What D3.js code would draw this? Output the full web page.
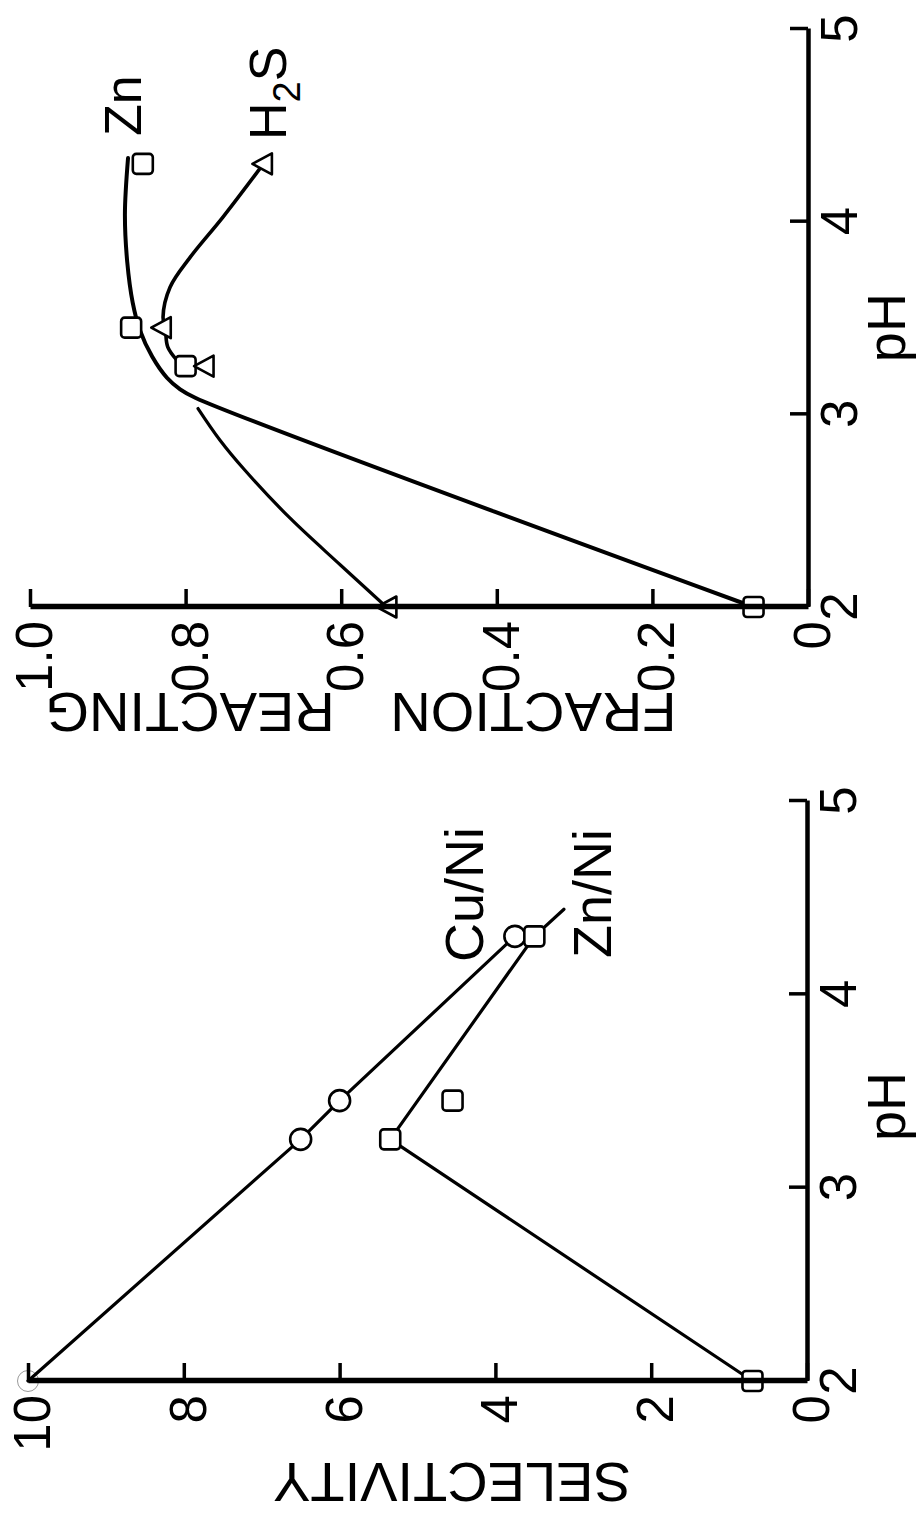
<!DOCTYPE html>
<html>
<head>
<meta charset="utf-8">
<script src="https://cdn.jsdelivr.net/npm/d3@7"></script>
<style>
  html, body { margin: 0; padding: 0; background: #fff; }
  svg { display: block; }
  text { font-family: "Liberation Sans", Arial, sans-serif; fill: #000; }
</style>
</head>
<body>
<svg id="fig" width="918" height="1514"></svg>
<script>
// ---- shared pH axis ----
const pHTicks = [2, 3, 4, 5];

// ---- selectivity panel ----
const selectivityTicks = [0, 2, 4, 6, 8, 10];
const cuNiPH  = [2.0, 3.25, 3.45, 4.3];
const cuNiSel = [10.0, 6.5, 6.0, 3.75];
const znNiPH  = [2.0, 3.25, 3.45, 4.3];
const znNiSel = [0.7, 5.35, 4.55, 3.5];
// hand-drawn Zn/Ni trend line (skips the pH 3.45 point, runs a little past the last one)
const znNiLinePH  = [2.0, 3.25, 4.3, 4.44];
const znNiLineSel = [0.7, 5.35, 3.5, 3.12];

// ---- fraction reacting panel ----
const fractionTicks = [0, 0.2, 0.4, 0.6, 0.8, 1.0];
const fractionTickLabels = ["0", "0.2", "0.4", "0.6", "0.8", "1.0"];
const znPH    = [2.0, 3.25, 3.45, 4.3];
const znFrac  = [0.07, 0.80, 0.87, 0.855];
const h2sPH   = [2.0, 3.25, 3.45, 4.3];
const h2sFrac = [0.54, 0.775, 0.83, 0.70];
// smooth trend curves drawn through the points
const znCurvePH   = [2.0, 3.085, 3.13, 3.19, 3.30, 3.44, 3.58, 3.79, 4.04, 4.33];
const znCurveFrac = [0.07, 0.787, 0.807, 0.824, 0.843, 0.859, 0.868, 0.875, 0.878, 0.874];
const h2sUpperPH   = [3.28, 3.35, 3.44, 3.505, 3.66, 3.816, 4.024, 4.3];
const h2sUpperFrac = [0.811, 0.823, 0.826, 0.829, 0.820, 0.794, 0.752, 0.70];
const h2sLowerPH   = [2.0, 2.218, 2.462, 2.711, 2.867, 3.03];
const h2sLowerFrac = [0.542, 0.601, 0.666, 0.724, 0.756, 0.784];

const zip = (xs, ys) => xs.map((x, i) => [x, ys[i]]);

// The figure is laid out landscape (1514 x 918) and turned a quarter turn
// counter-clockwise onto the portrait page.
const svg = d3.select("#fig");
const root = svg.append("g").attr("transform", "translate(0,1514) rotate(-90)");

const FONT = 51;

function drawAxes(g, x, y, yTicks, yLabels) {
  const xAxis = d3.axisBottom(x)
    .tickValues(pHTicks)
    .tickFormat(d3.format("d"))
    .tickSizeInner(-18).tickSizeOuter(0).tickPadding(13);
  const yAxis = d3.axisLeft(y)
    .tickValues(yTicks)
    .tickFormat((d, i) => yLabels[i])
    .tickSizeInner(-18).tickSizeOuter(0).tickPadding(14);

  const gx = g.append("g").attr("transform", `translate(0,${y.range()[0]})`).call(xAxis);
  const gy = g.append("g").attr("transform", `translate(${x.range()[0]},0)`).call(yAxis);

  gx.select(".domain").attr("stroke", "#000").attr("stroke-width", 4.5);
  gy.select(".domain").attr("stroke", "#000").attr("stroke-width", 5.5);
  [gx, gy].forEach(a => {
    a.selectAll(".tick line").attr("stroke", "#000").attr("stroke-width", 3.5);
    a.selectAll(".tick text")
      .attr("font-size", FONT)
      .attr("font-family", "Liberation Sans, Arial, sans-serif")
      .attr("fill", "#000");
  });
  gy.selectAll(".tick text").attr("dy", "0.42em");
}

function squares(g, pts, x, y) {
  g.selectAll(null).data(pts).join("rect")
    .attr("x", d => x(d[0]) - 10).attr("y", d => y(d[1]) - 10)
    .attr("width", 20).attr("height", 20).attr("rx", 3.5)
    .attr("fill", "#fff").attr("stroke", "#000").attr("stroke-width", 2.6);
}
function circles(g, pts, x, y) {
  // a marker sitting on the end of the value axis only prints faintly
  const onFrame = d => y(d[1]) <= y.range()[1] + 1;
  g.selectAll(null).data(pts).join("circle")
    .attr("cx", d => x(d[0])).attr("cy", d => y(d[1])).attr("r", 10.5)
    .attr("fill", d => onFrame(d) ? "none" : "#fff")
    .attr("stroke", "#000")
    .attr("stroke-width", d => onFrame(d) ? 0.8 : 2.6)
    .attr("stroke-opacity", d => onFrame(d) ? 0.5 : 1);
}
function triangles(g, pts, x, y) {
  g.selectAll(null).data(pts).join("path")
    .attr("d", "M0,-11L10.5,8.5L-10.5,8.5Z")
    .attr("transform", d => `translate(${x(d[0])},${y(d[1])})`)
    .attr("fill", "#fff").attr("stroke", "#000")
    .attr("stroke-width", 2.6).attr("stroke-linejoin", "round");
}
function trend(g, pts, x, y, w, curve) {
  g.append("path")
    .attr("d", d3.line().x(d => x(d[0])).y(d => y(d[1])).curve(curve || d3.curveLinear)(pts))
    .attr("fill", "none").attr("stroke", "#000")
    .attr("stroke-width", w).attr("stroke-linejoin", "round").attr("stroke-linecap", "round");
}

// ================= selectivity panel (left in landscape) =================
{
  const x = d3.scaleLinear().domain([2, 5]).range([133, 713]);
  const y = d3.scaleLinear().domain([0, 10]).range([807, 28]);
  const g = root.append("g");

  trend(g, zip(cuNiPH, cuNiSel), x, y, 3.2);
  trend(g, zip(znNiLinePH, znNiLineSel), x, y, 3.2);
  circles(g, zip(cuNiPH, cuNiSel), x, y);
  squares(g, zip(znNiPH, znNiSel), x, y);

  drawAxes(g, x, y, selectivityTicks, selectivityTicks.map(String));

  g.append("text").attr("x", x(3.42)).attr("y", 905)
    .attr("text-anchor", "middle").attr("font-size", 54).text("pH");
  g.append("text").attr("transform", "translate(51,452) rotate(-90)")
    .attr("text-anchor", "middle").attr("font-size", 56)
    .text("SELECTIVITY");

  g.append("text").attr("x", 552).attr("y", 483).attr("font-size", 54).text("Cu/Ni");
  g.append("text").attr("x", 556).attr("y", 611).attr("font-size", 54).text("Zn/Ni");
}

// ================= fraction reacting panel (right in landscape) =================
{
  const x = d3.scaleLinear().domain([2, 5]).range([907, 1485]);
  const y = d3.scaleLinear().domain([0, 1]).range([808, 30]);
  const g = root.append("g");

  trend(g, zip(h2sLowerPH, h2sLowerFrac), x, y, 3.2, d3.curveCatmullRom.alpha(0.5));
  trend(g, zip(h2sUpperPH, h2sUpperFrac), x, y, 3.6, d3.curveCatmullRom.alpha(0.5));
  trend(g, zip(znCurvePH, znCurveFrac), x, y, 4, d3.curveCatmullRom.alpha(0.5));
  squares(g, zip(znPH, znFrac), x, y);
  triangles(g, zip(h2sPH, h2sFrac), x, y);

  drawAxes(g, x, y, fractionTicks, fractionTickLabels);

  g.append("text").attr("x", x(3.45)).attr("y", 905)
    .attr("text-anchor", "middle").attr("font-size", 54).text("pH");
  g.append("text").attr("transform", "translate(821,361) rotate(-90)")
    .attr("text-anchor", "middle").attr("font-size", 56).attr("word-spacing", 40)
    .text("FRACTION REACTING");

  g.append("text").attr("x", 1378).attr("y", 141).attr("font-size", 52).text("Zn");
  const h = g.append("text").attr("x", 1374).attr("y", 286).attr("font-size", 52);
  h.append("tspan").text("H");
  h.append("tspan").attr("font-size", 38).attr("dy", 14).text("2");
  h.append("tspan").attr("dy", -14).text("S");
}
</script>
</body>
</html>
